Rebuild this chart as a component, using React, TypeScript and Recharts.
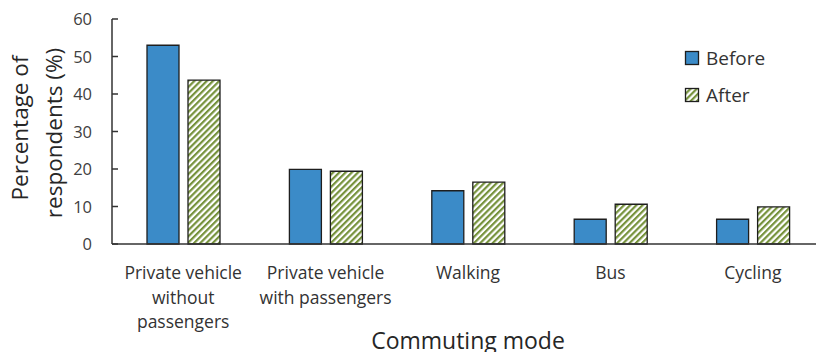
import React from "react";
import { BarChart, Bar, XAxis, YAxis } from "recharts";

// Commuting mode survey: share of respondents before and after
const modes = [
  "Private vehicle without passengers",
  "Private vehicle with passengers",
  "Walking",
  "Bus",
  "Cycling",
];
const modeLines: string[][] = [
  ["Private vehicle", "without", "passengers"],
  ["Private vehicle", "with passengers"],
  ["Walking"],
  ["Bus"],
  ["Cycling"],
];
const before = [53.0, 19.9, 14.2, 6.6, 6.6];
const after = [43.7, 19.4, 16.5, 10.6, 9.9];
const yTicks = [0, 10, 20, 30, 40, 50, 60];
const seriesNames = ["Before", "After"];

const data = modes.map((m, i) => ({ mode: m, before: before[i], after: after[i] }));

const FONT = "'Open Sans', Lato, sans-serif";
const BLUE = "#3b8bc8";
const GREEN = "#76923c";
const EDGE = "#1e1e1e";

const YTick = (props: any) => {
  const { y, payload } = props;
  return (
    <g>
      <line x1={112} x2={118} y1={y} y2={y} stroke="#333" strokeWidth={1.5} />
      <text x={92} y={y} dy={6} textAnchor="end" fontSize={16.5} fill="#404040" fontFamily={FONT}>
        {payload.value}
      </text>
    </g>
  );
};

const XTick = (props: any) => {
  const { x, payload } = props;
  const lines = modeLines[payload.index] || [String(payload.value)];
  return (
    <g>
      {lines.map((t, i) => (
        <text key={i} x={x} y={279 + i * 24.5} textAnchor="middle" fontSize={17.5} fill="#333" fontFamily={FONT}>
          {t}
        </text>
      ))}
    </g>
  );
};

export default function App() {
  return (
    <div style={{ position: "fixed", left: 0, top: 0, width: 816, height: 352, overflow: "hidden", background: "#fff" }}>
      <BarChart
        width={830}
        height={352}
        data={data}
        margin={{ top: 19, right: 6, bottom: 0, left: 0 }}
        barSize={32}
        barGap={9}
      >
        <defs>
          <pattern id="hatch" width={4.4} height={4.4} patternUnits="userSpaceOnUse" patternTransform="rotate(45)">
            <rect x={0} y={0} width={4.4} height={4.4} fill="#fff" />
            <rect x={0} y={0} width={2.2} height={4.4} fill={GREEN} />
          </pattern>
        </defs>
        <XAxis
          dataKey="mode"
          height={108}
          interval={0}
          tickLine={false}
          axisLine={{ stroke: "#333", strokeWidth: 1.5 }}
          tick={<XTick />}
        />
        <YAxis
          width={112}
          domain={[0, 60]}
          ticks={yTicks}
          tickLine={false}
          axisLine={{ stroke: "#333", strokeWidth: 1.5 }}
          tick={<YTick />}
        />
        <Bar dataKey="before" name={seriesNames[0]} fill={BLUE} stroke={EDGE} strokeWidth={1.3} isAnimationActive={false} />
        <Bar dataKey="after" name={seriesNames[1]} fill="url(#hatch)" stroke={EDGE} strokeWidth={1.3} isAnimationActive={false} />
        {/* legend */}
        <g>
          <rect x={685.5} y={51.5} width={13} height={13} fill={BLUE} stroke={EDGE} strokeWidth={1.3} />
          <text x={706} y={64.5} fontSize={19} fill="#333" fontFamily={FONT}>{seriesNames[0]}</text>
          <rect x={685.5} y={88.5} width={13} height={13} fill="url(#hatch)" stroke={EDGE} strokeWidth={1.3} />
          <text x={706} y={101.5} fontSize={19} fill="#333" fontFamily={FONT}>{seriesNames[1]}</text>
        </g>
        <text x={468} y={349} textAnchor="middle" fontSize={23} fill="#262626" fontFamily={FONT}>
          Commuting mode
        </text>
        <text transform="translate(28,128) rotate(-90)" textAnchor="middle" fontSize={22.5} fill="#262626" fontFamily={FONT}>
          Percentage of
        </text>
        <text transform="translate(62,133) rotate(-90)" textAnchor="middle" fontSize={22.5} fill="#262626" fontFamily={FONT}>
          respondents (%)
        </text>
      </BarChart>
    </div>
  );
}
